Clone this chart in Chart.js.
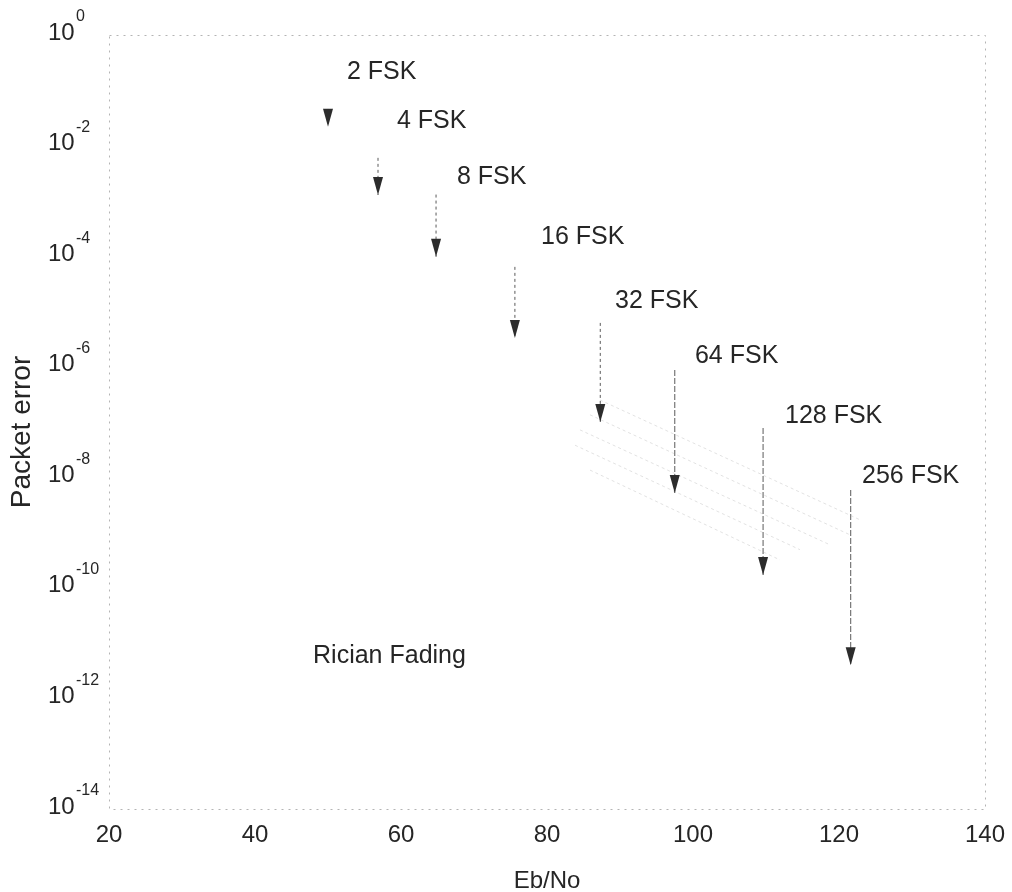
<!DOCTYPE html>
<html>
<head>
<meta charset="utf-8">
<script src="https://cdn.jsdelivr.net/npm/chart.js@4.4.1/dist/chart.umd.min.js"></script>
<style>
  html, body { margin: 0; padding: 0; background: #ffffff; }
  #wrap { width: 1012px; height: 892px; }
</style>
</head>
<body>
<div id="wrap"><canvas id="c" width="1012" height="892"></canvas></div>
<script>
// Modulation orders, one arrow per scheme
const categories = ['2 FSK', '4 FSK', '8 FSK', '16 FSK', '32 FSK', '64 FSK', '128 FSK', '256 FSK'];
// Eb/No position of each arrow
const arrowX = [50.0, 56.85, 64.8, 75.6, 87.3, 97.5, 109.6, 121.6];
// Packet error at the tail and at the tip of each arrow
const arrowTop = [4.6e-2, 6.0e-3, 1.3e-3, 6.4e-5, 6.2e-6, 8.7e-7, 7.8e-8, 5.9e-9];
const arrowTip = [2.2e-2, 1.28e-3, 9.7e-5, 3.3e-6, 1.0e-7, 5.2e-9, 1.7e-10, 4.0e-12];
// Anchor of each scheme's label (left edge, vertical middle)
const labelX = [52.6, 59.45, 67.67, 79.18, 89.32, 100.27, 112.6, 123.15];
const labelY = [0.214, 0.0275, 2.69e-3, 2.24e-4, 1.55e-5, 1.55e-6, 1.29e-7, 1.05e-8];
// Channel note
const noteText = 'Rician Fading';
const noteX = [47.95];
const noteY = [5.9e-12];
// Faint diagonal shading lines behind the high-order arrows
const hatchX0 = [87.26, 85.89, 84.52, 83.84, 85.89];
const hatchY0 = [2.5e-7, 1.35e-7, 7.2e-8, 3.8e-8, 1.35e-8];
const hatchX1 = [122.88, 121.51, 118.77, 114.66, 111.92];
const hatchY1 = [1.7e-9, 9.1e-10, 6.0e-10, 4.9e-10, 3.2e-10];
// Axis ticks
const xTicks = [20, 40, 60, 80, 100, 120, 140];
const yExponents = [0, -2, -4, -6, -8, -10, -12, -14];
const xTitle = 'Eb/No';
const yTitle = 'Packet error';

const FONT = '"Liberation Sans", Arial, Helvetica, sans-serif';
const INK = '#262626';

const datasets = [];
hatchX0.forEach((x0, i) => {
  datasets.push({
    label: 'shade' + i,
    data: [{ x: x0, y: hatchY0[i] }, { x: hatchX1[i], y: hatchY1[i] }],
    borderColor: 'rgba(150,150,150,0.28)',
    borderWidth: 1,
    borderDash: [3, 3],
    pointRadius: 0,
    fill: false
  });
});
categories.forEach((name, i) => {
  datasets.push({
    label: name,
    isArrow: true,
    data: [{ x: arrowX[i], y: arrowTop[i] }, { x: arrowX[i], y: arrowTip[i] }],
    borderColor: '#6a6a6a',
    borderWidth: 1.1,
    borderDash: i >= 5 ? [6, 2] : [3, 3],
    pointRadius: 0,
    fill: false
  });
});

const decorations = {
  id: 'decorations',
  beforeDatasetsDraw(chart) {
    const { ctx, chartArea: a } = chart;
    ctx.save();
    ctx.strokeStyle = '#b4b4b4';
    ctx.lineWidth = 1;
    ctx.setLineDash([2, 5]);
    ctx.strokeRect(a.left + 0.5, a.top + 0.5, a.right - a.left, a.bottom - a.top);
    ctx.restore();
  },
  afterDatasetsDraw(chart) {
    const { ctx, chartArea: a } = chart;
    const xs = chart.scales.x, ys = chart.scales.y;
    ctx.save();
    // arrowheads at the last point of each arrow line
    chart.data.datasets.forEach((ds, di) => {
      if (!ds.isArrow) return;
      const pts = chart.getDatasetMeta(di).data;
      const tip = pts[pts.length - 1];
      ctx.fillStyle = '#2c2c2c';
      ctx.beginPath();
      ctx.moveTo(tip.x, tip.y);
      ctx.lineTo(tip.x - 5, tip.y - 18);
      ctx.lineTo(tip.x + 5, tip.y - 18);
      ctx.closePath();
      ctx.fill();
    });
    // scheme labels
    ctx.fillStyle = INK;
    ctx.font = '25px ' + FONT;
    ctx.textAlign = 'left';
    ctx.textBaseline = 'middle';
    categories.forEach((name, i) => {
      ctx.fillText(name, xs.getPixelForValue(labelX[i]), ys.getPixelForValue(labelY[i]));
    });
    ctx.fillText(noteText, xs.getPixelForValue(noteX[0]), ys.getPixelForValue(noteY[0]));

    // y tick labels as 10 with a raised exponent
    yExponents.forEach(e => {
      const py = ys.getPixelForValue(Math.pow(10, e));
      ctx.font = '24px ' + FONT;
      ctx.textBaseline = 'middle';
      ctx.textAlign = 'left';
      ctx.fillText('10', 48, py - 2);
      ctx.font = '16px ' + FONT;
      ctx.fillText(String(e), 76, py - 18);
    });
    // x tick labels
    ctx.font = '24px ' + FONT;
    ctx.textAlign = 'center';
    ctx.textBaseline = 'middle';
    xTicks.forEach(v => {
      ctx.fillText(String(v), xs.getPixelForValue(v), a.bottom + 26);
    });
    // axis titles
    ctx.font = '24px ' + FONT;
    ctx.fillText(xTitle, (a.left + a.right) / 2, a.bottom + 72);
    ctx.save();
    ctx.translate(22, (a.top + a.bottom) / 2 + 10);
    ctx.rotate(-Math.PI / 2);
    ctx.font = '28px ' + FONT;
    ctx.fillText(yTitle, 0, 0);
    ctx.restore();
    ctx.restore();
  }
};

new Chart(document.getElementById('c'), {
  type: 'line',
  data: { datasets },
  options: {
    responsive: false,
    animation: false,
    layout: { padding: { left: 109, right: 27, top: 35, bottom: 83 } },
    plugins: { legend: { display: false }, tooltip: { enabled: false } },
    scales: {
      x: { type: 'linear', min: 20, max: 140, display: false },
      y: { type: 'logarithmic', min: 1e-14, max: 1, display: false }
    }
  },
  plugins: [decorations]
});
</script>
</body>
</html>
